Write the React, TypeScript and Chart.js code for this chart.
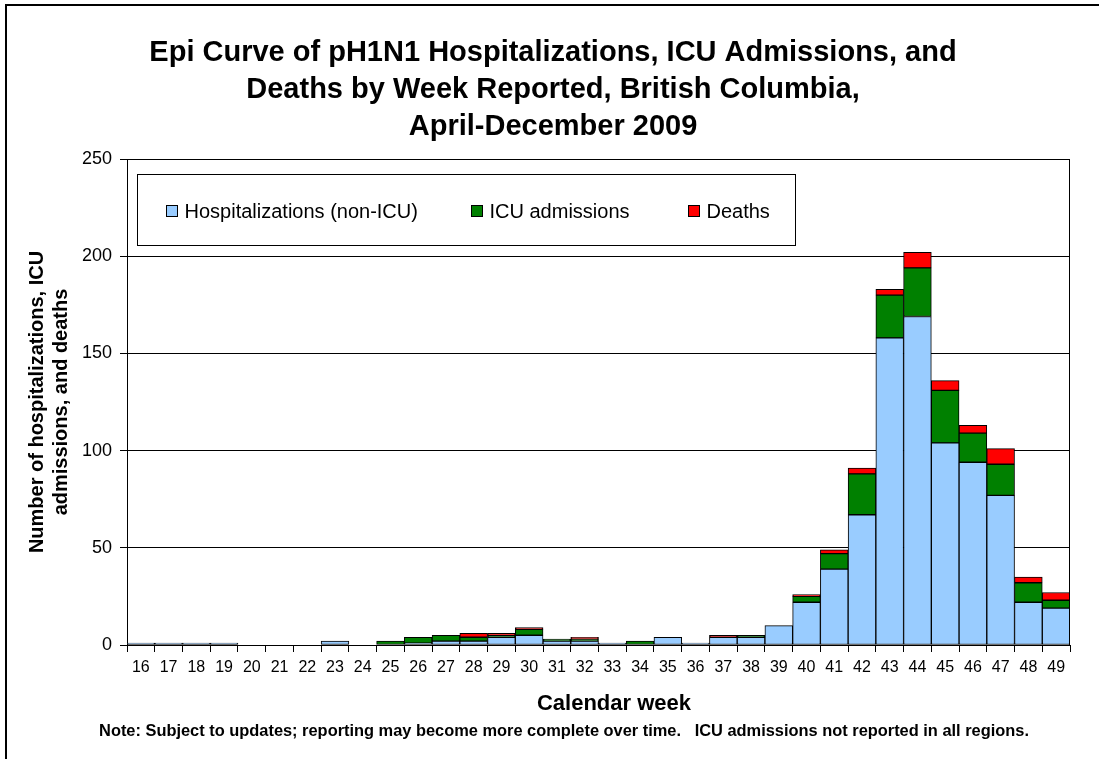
import React, { useEffect, useRef } from 'react';
import { Chart, registerables } from 'chart.js';

Chart.register(...registerables);

const weeks = ['16','17','18','19','20','21','22','23','24','25','26','27','28','29','30','31','32','33','34','35','36','37','38','39','40','41','42','43','44','45','46','47','48','49'];
const hospitalizations = [1,1,1,1,0,0,0,2,0,0,1,2,2,4,5,2,2,1,0,4,1,4,4,10,22,39,67,158,169,104,94,77,22,19];
const icuAdmissions    = [0,0,0,0,0,0,0,0,0,2,3,3,2,1,3,1,1,0,2,0,0,0,1,0,3,8,21,22,25,27,15,16,10,4];
const deaths           = [0,0,0,0,0,0,0,0,0,0,0,0,2,1,1,0,1,0,0,0,0,1,0,0,1,2,3,3,8,5,4,8,3,4];
const yTickValues = [0, 50, 100, 150, 200, 250];

const titleLines = [
  'Epi Curve of pH1N1 Hospitalizations, ICU Admissions, and',
  'Deaths by Week Reported, British Columbia,',
  'April-December 2009',
];
const yAxisTitle = ['Number of hospitalizations, ICU', 'admissions, and deaths'];
const xAxisTitle = 'Calendar week';
const noteText = 'Note: Subject to updates; reporting may become more complete over time.   ICU admissions not reported in all regions.';
const seriesLabels = ['Hospitalizations (non-ICU)', 'ICU admissions', 'Deaths'];
const seriesColors = ['#99CCFF', '#008000', '#FF0000'];

const FONT = '"Liberation Sans", Arial, sans-serif';

const framePlugin = {
  id: 'frame',
  afterDraw(chart: any) {
    const { ctx, chartArea, width, height } = chart;
    ctx.save();
    ctx.fillStyle = '#000';
    ctx.fillRect(5, 4, width - 5, 2);
    ctx.fillRect(5, 4, 2, height - 4);
    ctx.strokeStyle = '#000';
    ctx.lineWidth = 1;
    ctx.beginPath();
    const rx = Math.round(chartArea.right) - 0.5;
    ctx.moveTo(rx, chartArea.top);
    ctx.lineTo(rx, chartArea.bottom);
    ctx.stroke();
    ctx.restore();
  },
};

const textPlugin = {
  id: 'bottomTexts',
  afterDraw(chart: any) {
    const { ctx } = chart;
    ctx.save();
    ctx.fillStyle = '#000';
    ctx.textAlign = 'center';
    ctx.textBaseline = 'middle';
    ctx.font = `bold 22px ${FONT}`;
    ctx.fillText(xAxisTitle, 614, 704);
    ctx.font = `bold 16.4px ${FONT}`;
    ctx.fillText(noteText, 564, 731);
    ctx.restore();
  },
};

const legendBoxPlugin = {
  id: 'legendBox',
  afterDatasetsDraw(chart: any) {
    const { ctx, chartArea } = chart;
    const x0 = Math.round(chartArea.left) + 10.5;
    const y0 = Math.round(chartArea.top) + 15.5;
    ctx.save();
    ctx.fillStyle = '#fff';
    ctx.fillRect(x0, y0, 658, 71);
    ctx.strokeStyle = '#000';
    ctx.lineWidth = 1;
    ctx.strokeRect(x0, y0, 658, 71);
    const offsets = [39, 344, 561];
    const cy = Math.round(chartArea.top) + 52;
    ctx.font = `20px ${FONT}`;
    ctx.textBaseline = 'middle';
    ctx.textAlign = 'left';
    chart.data.datasets.forEach((ds: any, i: number) => {
      const sx = Math.round(chartArea.left) + offsets[i] + 0.5;
      ctx.fillStyle = ds.backgroundColor;
      ctx.fillRect(sx, cy - 5.5, 11, 11);
      ctx.strokeStyle = '#000';
      ctx.strokeRect(sx, cy - 5.5, 11, 11);
      ctx.fillStyle = '#000';
      ctx.fillText(ds.label, sx + 18, cy + 1);
    });
    ctx.restore();
  },
};

export default function App() {
  const ref = useRef<HTMLCanvasElement | null>(null);

  useEffect(() => {
    document.body.style.margin = '0';
    const canvas = ref.current!;
    const seriesData = [hospitalizations, icuAdmissions, deaths];
    const chart = new Chart(canvas, {
      type: 'bar',
      data: {
        labels: weeks,
        datasets: seriesData.map((d, i) => ({
          label: seriesLabels[i],
          data: d,
          backgroundColor: seriesColors[i],
          borderColor: '#000',
          borderWidth: 1,
          borderSkipped: false,
          barPercentage: 1,
          categoryPercentage: 1,
        })),
      },
      options: {
        responsive: false,
        animation: false,
        devicePixelRatio: 1,
        layout: { padding: { left: 36, right: 29, top: 16, bottom: 44 } },
        plugins: {
          legend: { display: false },
          tooltip: { enabled: false },
          title: {
            display: true,
            text: titleLines,
            color: '#000',
            font: { family: FONT, size: 29, weight: 'bold', lineHeight: 37 / 29 },
            padding: { top: 18.5, bottom: 13.5 },
          },
        },
        scales: {
          x: {
            stacked: true,
            offset: true,
            grid: {
              display: true,
              drawOnChartArea: false,
              offset: true,
              tickLength: 7,
              color: '#000',
            },
            border: { color: '#000', width: 1 },
            ticks: {
              color: '#000',
              font: { family: FONT, size: 16 },
              padding: 6,
              maxRotation: 0,
              autoSkip: false,
            },
            title: { display: false, text: xAxisTitle },
            afterFit: (scale: any) => { scale.height = 70; },
          },
          y: {
            stacked: true,
            min: 0,
            max: 250,
            afterBuildTicks: (scale: any) => { scale.ticks = yTickValues.map((v) => ({ value: v })); },
            grid: { color: '#000', tickLength: 7 },
            border: { color: '#000', width: 1 },
            ticks: {
              color: '#000',
              font: { family: FONT, size: 18 },
              padding: 8,
            },
            title: {
              display: true,
              text: yAxisTitle,
              color: '#000',
              font: { family: FONT, size: 20, weight: 'bold', lineHeight: 24 / 20 },
              padding: { top: -11, bottom: 0 },
            },
            afterFit: (scale: any) => { scale.width = 91; },
          },
        },
      },
      plugins: [legendBoxPlugin, framePlugin, textPlugin],
    } as any);
    return () => chart.destroy();
  }, []);

  return (
    <div style={{ width: 1099, height: 759, background: '#fff' }}>
      <canvas ref={ref} width={1099} height={759} style={{ display: 'block' }} />
    </div>
  );
}
